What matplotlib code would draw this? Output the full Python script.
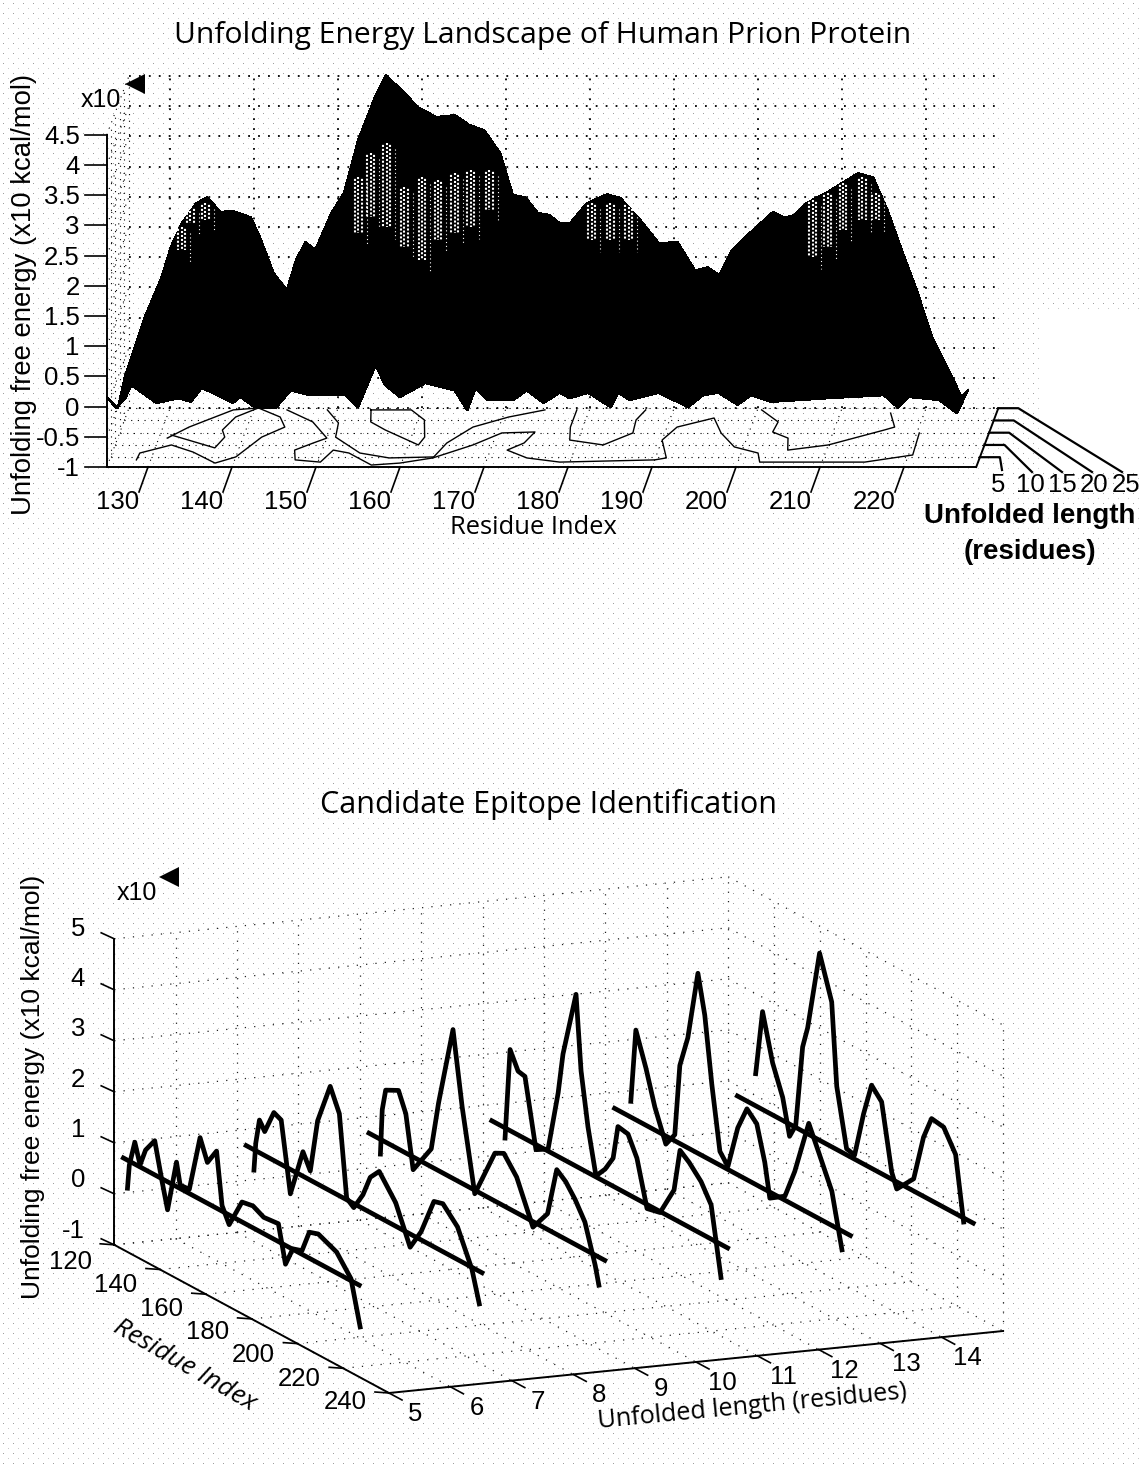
#!/usr/bin/env python
# -*- coding: utf-8 -*-
"""Unfolding energy landscape of the human prion protein, two oblique 3D views"""

import numpy as np
import matplotlib
matplotlib.use('Agg')
import matplotlib.pyplot as plt

plt.rcParams['font.family'] = ['Liberation Sans', 'DejaVu Sans']

W, H = 1142, 1464

## Top panel data (residue, unfolded length, energy in x10 kcal/mol)
top_res = [122.5, 123.8, 124.6, 127.0, 129.0, 130.1, 131.4, 133.1, 134.4, 136.0, 137.5, 139.6, 140.7, 142.3,
           143.9, 145.0, 146.1, 147.3, 149.2, 150.7, 152.4, 154.4, 155.7, 157.9, 159.5, 161.7, 163.9, 165.6,
           167.4, 169.3, 170.8, 172.3, 173.8, 175.1, 176.4, 177.6, 179.6, 182.0, 183.6, 186.0, 188.2, 190.4,
           192.5, 194.0, 195.4, 196.9, 198.7, 201.8, 203.1, 204.4, 205.7, 208.3, 211.9, 213.7, 215.4, 217.1,
           218.9, 220.7, 223.3, 224.2, 225.0]
top_ridge = [-0.82, -1.00, -0.49, 0.51, 1.17, 1.67, 2.06, 2.39, 2.49, 2.25, 2.26, 2.16, 1.83, 1.24,
             0.95, 1.45, 1.75, 1.62, 2.23, 2.56, 3.44, 4.15, 4.51, 4.22, 3.98, 3.82, 3.85, 3.69,
             3.60, 3.22, 2.53, 2.49, 2.23, 2.20, 2.06, 2.06, 2.39, 2.54, 2.48, 2.11, 1.73, 1.75,
             1.28, 1.33, 1.20, 1.62, 1.86, 2.25, 2.15, 2.20, 2.39, 2.58, 2.89, 2.82, 2.28, 1.62,
             0.95, 0.18, -0.54, -0.82, -0.70]
low_res = [125.1, 126.2, 127.3, 128.0, 129.3, 131.0, 133.6, 135.1, 136.4, 138.3, 140.1, 141.0, 142.7, 145.2,
           147.0, 149.2, 153.5, 155.0, 157.1, 158.2, 160.0, 163.0, 166.5, 168.0, 169.0, 170.4, 173.5, 175.1,
           177.1, 179.0, 180.2, 182.4, 185.1, 186.0, 187.3, 190.8, 194.3, 196.1, 197.9, 200.2, 201.8, 204.2,
           211.0, 217.6, 219.3, 220.6, 224.2, 226.3, 227.6]
low_edge = [0.16, -0.02, 0.14, 0.36, 0.23, 0.06, 0.14, 0.08, 0.31, 0.19, 0.06, 0.16, -0.01, -0.02,
            0.27, 0.19, 0.19, -0.01, 0.69, 0.36, 0.16, 0.39, 0.27, -0.06, 0.31, 0.11, 0.11, 0.27,
            0.06, 0.23, 0.14, 0.23, -0.01, 0.23, 0.11, 0.23, -0.01, 0.19, 0.23, 0.03, 0.19, 0.08,
            0.14, 0.19, -0.02, 0.16, 0.11, -0.11, 0.27]

# pale streaks where the mesh opens up near the ridge
mesh_res = [131.4, 132.4, 134.2, 152.4, 153.9, 155.8, 157.9, 160.0, 161.9, 163.9, 165.8, 168.0,
            180.2, 182.4, 184.6, 206.5, 208.3, 210.1, 212.4, 214.0]
mesh_top = [2.00, 2.33, 2.39, 2.82, 3.22, 3.39, 2.66, 2.82, 2.77, 2.89, 2.94, 2.94,
            2.39, 2.39, 2.39, 2.44, 2.56, 2.73, 2.82, 2.56]
mesh_bot = [1.62, 2.06, 2.11, 1.90, 2.16, 2.00, 1.67, 1.45, 1.78, 1.90, 2.00, 2.28,
            1.78, 1.78, 1.78, 1.50, 1.67, 1.95, 2.11, 2.11]

# contour lines on the floor
contour_res = [
    [128.3, 128.4, 131.8, 134.7, 137.8, 140.0, 142.2, 144.5, 143.5, 140.5, 137.6, 133.1, 131.0],
    [131.3, 137.1, 137.8, 137.2, 138.2, 140.5],
    [144.0, 147.6, 150.0, 148.6, 146.7, 147.2, 150.3, 151.3, 153.3, 156.5, 159.8, 163.5, 164.5, 166.9, 170.7, 174.7],
    [148.8, 150.7, 151.0, 154.6, 158.3, 163.5],
    [154.0, 154.5, 156.6, 161.2, 161.6, 160.8, 158.8, 154.0],
    [163.5, 167.7, 170.6, 174.5, 173.7, 172.0, 174.7, 178.8, 190.0, 191.3, 190.0, 191.2, 195.2, 196.7, 198.9,
     202.0, 202.6, 215.1, 220.5, 220.3],
    [178.5, 178.5, 179.0, 183.2, 186.2, 186.0, 186.7],
    [200.5, 203.0, 202.8, 204.9, 205.4, 210.0, 216.0, 217.1, 216.0],
]
contour_len = [
    [3.9, 6.7, 10.0, 7.1, 2.6, 5.1, 13.2, 17.3, 21.4, 25.1, 24.3, 17.3, 12.8],
    [14.1, 8.8, 13.2, 16.1, 21.4, 25.1],
    [24.3, 19.4, 12.8, 10.8, 7.9, 3.9, 3.0, 7.9, 6.7, 1.8, 2.6, 4.7, 10.8, 17.3, 21.4, 24.3],
    [24.3, 19.0, 13.2, 6.7, 4.7, 5.1],
    [24.3, 19.4, 16.1, 10.0, 13.2, 20.2, 24.3, 24.3],
    [4.7, 10.0, 14.9, 15.3, 10.8, 7.9, 4.7, 3.0, 3.9, 4.7, 12.0, 17.3, 21.0, 14.9, 9.2,
     6.7, 3.0, 3.0, 5.9, 14.9],
    [24.3, 17.3, 12.0, 10.0, 14.9, 20.2, 24.3],
    [24.3, 19.4, 15.3, 12.8, 7.9, 10.0, 16.1, 17.3, 23.0],
]

top_res_ticks = [130, 140, 150, 160, 170, 180, 190, 200, 210, 220]
top_z_ticks = [-1, -0.5, 0, 0.5, 1, 1.5, 2, 2.5, 3, 3.5, 4, 4.5]
top_z_labels = ['-1', '-0.5', '0', '0.5', '1', '1.5', '2', '2.5', '3', '3.5', '4', '4.5']
top_len_ticks = [5, 10, 15, 20, 25]

## Bottom panel data, one profile per unfolded length
prof_len = [5, 7, 9, 11, 13, 15]
prof_res = [
    [125.8, 126.6, 129.0, 131.3, 133.7, 137.7, 140.9, 143.3, 147.2, 148.8, 152.8, 157.5, 160.7, 164.7, 167.1,
     170.2, 175.8, 180.6, 185.3, 191.7, 194.8, 198.0, 202.0, 205.2, 209.1, 217.1, 223.4, 227.4],
    [127.4, 128.2, 129.8, 132.1, 136.1, 139.3, 143.3, 148.8, 152.0, 155.2, 160.7, 164.7, 167.9, 171.0, 175.0,
     178.2, 182.1, 189.3, 195.6, 200.4, 206.0, 209.9, 216.3, 222.6, 225.8],
    [129.0, 129.8, 131.3, 136.9, 140.1, 143.3, 151.2, 154.4, 160.7, 164.7, 170.2, 179.0, 182.9, 188.5, 195.6,
     202.0, 206.0, 209.9, 214.0, 218.3, 222.8, 224.4],
    [129.8, 132.0, 135.5, 138.5, 143.3, 148.6, 153.0, 155.1, 160.8, 163.0, 166.0, 169.5, 173.5, 177.0, 179.1,
     183.5, 187.4, 191.8, 197.5, 203.6, 206.2, 210.2, 215.4, 219.8, 224.1],
    [131.1, 133.3, 137.7, 141.6, 146.4, 150.3, 152.5, 156.0, 160.4, 163.4, 166.5, 170.0, 173.5, 177.8, 181.8,
     186.1, 189.6, 191.8, 198.4, 202.7, 208.8, 213.2, 218.9, 223.3],
    [132.0, 135.0, 139.4, 143.8, 146.8, 149.5, 152.5, 154.7, 159.9, 165.2, 167.4, 171.7, 175.2, 179.1, 182.6,
     187.0, 191.4, 193.6, 201.0, 205.3, 208.8, 214.1, 219.3, 222.8],
]
prof_energy = [
    [0.25, 0.72, 1.23, 0.84, 1.19, 1.47, 0.75, 0.25, 1.28, 0.87, 0.88, 2.01, 1.60, 1.92, 0.91,
     0.61, 1.19, 1.23, 1.12, 1.15, 0.43, 0.81, 0.87, 1.31, 1.37, 1.21, 0.84, -0.01],
    [0.40, 0.95, 1.44, 1.27, 1.74, 1.67, 0.32, 1.28, 0.98, 2.04, 2.85, 2.41, 0.83, 0.72, 1.07,
     1.49, 1.70, 1.26, 0.54, 0.96, 1.69, 1.74, 1.44, 0.76, 0.16],
    [0.51, 1.40, 1.82, 1.95, 1.57, 0.55, 1.15, 2.13, 3.72, 2.30, 0.73, 1.74, 1.83, 1.50, 0.69,
     1.11, 2.07, 1.93, 1.68, 1.34, 0.60, 0.25],
    [0.60, 2.39, 2.05, 2.02, 0.70, 0.84, 2.05, 2.86, 4.17, 2.72, 1.70, 0.82, 1.05, 1.35, 2.02,
     1.98, 1.60, 0.72, 0.78, 1.37, 2.21, 2.07, 1.82, 1.47, 0.15],
    [1.11, 2.56, 1.92, 1.25, 0.64, 0.92, 2.33, 2.96, 4.33, 3.58, 2.29, 1.07, 0.86, 1.72, 2.19,
     2.00, 1.33, 0.68, 0.88, 1.47, 2.56, 2.09, 1.47, 0.43],
    [1.43, 2.72, 1.82, 1.25, 0.56, 0.84, 2.45, 2.88, 4.47, 3.64, 2.04, 0.92, 0.88, 1.78, 2.43,
     2.21, 0.94, 0.66, 1.04, 1.96, 2.41, 2.37, 1.96, 0.72],
]
threshold = 0.8
threshold_res = [124, 227]

bot_z_ticks = [-1, 0, 1, 2, 3, 4, 5]
bot_res_ticks = [120, 140, 160, 180, 200, 220, 240]
bot_len_ticks = [5, 6, 7, 8, 9, 10, 11, 12, 13, 14]


def top_xy(r, l, z):
    r, l, z = np.asarray(r, float), np.asarray(l, float), np.asarray(z, float)
    return 148 + 8.4*(r - 130) + 0.92*(l - 1), 467 - 60.4*(z + 1) - 2.45*(l - 1)


def bot_xy(r, l, z):
    r, l, z = np.asarray(r, float), np.asarray(l, float), np.asarray(z, float)
    return 389 + 61.4*(l - 5) + 2.29*(r - 240), 1393 - 6.2*(l - 5) + 1.235*(r - 240) - 51*(z + 1)


fig = plt.figure(figsize=(W/100, H/100), dpi=100)
ax = fig.add_axes([0, 0, 1, 1])
ax.set_xlim(0, W)
ax.set_ylim(H, 0)
ax.axis('off')

# halftone paper of the scan
yy, xx = np.mgrid[0:H, 0:W]
paper = np.ones((H, W))
paper[(xx % 10 == 3) & (yy % 10 == 3)] = 0.62
paper[(xx % 10 == 8) & (yy % 10 == 8)] = 0.78
paper[(xx > 1042) & (yy > 312) & (yy < 470)] = 1
ax.imshow(paper, cmap='gray', vmin=0, vmax=1, extent=(0, W, H, 0), aspect='auto', zorder=0,
          interpolation='nearest')

grid = dict(color='black', lw=1.3, ls=(0, (1, 4.5)), zorder=1)
grid2 = dict(color='black', lw=0.8, ls=(0, (1, 5)), zorder=1)
grid3 = dict(color='#222222', lw=0.9, ls=(0, (1, 6.5)), zorder=1)
axis = dict(color='black', lw=1.4, zorder=2)
tick = dict(color='black', lw=1.2, zorder=2)

## Top panel
ax.text(543, 36, 'Unfolding Energy Landscape of Human Prion Protein', family='Open Sans',
        fontsize=21.6, ha='center', va='center')

# walls and floor
for z in top_z_ticks:
    ax.plot(*top_xy([125.1, 228.6], [25, 25], [z, z]), **grid)
    ax.plot(*top_xy([125.1, 125.1], [1, 25], [z, z]), **grid2)
for r in top_res_ticks:
    ax.plot(*top_xy([r, r], [25, 25], [-1, 4.5]), **grid)
for l in top_len_ticks:
    ax.plot(*top_xy([125.1, 228.6], [l, l], [-1, -1]), **grid2)
    ax.plot(*top_xy([125.1, 125.1], [l, l], [-1, 4.5]), **grid2)
for r in top_res_ticks:
    ax.plot(*top_xy([r, r], [1, 25], [-1, -1]), **grid2)

# contours under the surface
for res, lens in zip(contour_res, contour_len):
    ax.plot(*top_xy(res, lens, -1), color='black', lw=1.0, zorder=2)

# surface
xt, yt = top_xy(top_res, 25, top_ridge)
xl, yl = top_xy(low_res, 1, low_edge)
ax.fill(np.r_[xt, xl[::-1]], np.r_[yt, yl[::-1]], color='black', lw=1, antialiased=False, zorder=3)
for r, zt, zb in zip(mesh_res, mesh_top, mesh_bot):
    # checker of three columns for the open part, a fainter one beside it
    for dr, phase in [(-0.4, 1), (0, 0), (0.4, 1)]:
        ax.plot(*top_xy([r + dr, r + dr], [25, 25], [zt, zb]), color='white', lw=1.5,
                ls=(phase, (1, 0.9)), zorder=4)
    ax.plot(*top_xy([r + 1, r + 1], [25, 25], [zt - 0.1, zb - 0.2]), color='white', lw=0.8,
            ls=(0, (1, 2.5)), zorder=4)

# axes
ax.plot(*top_xy([125.1, 125.1], [1, 1], [-1, 4.5]), **axis)
ax.plot(*top_xy([125.1, 228.6], [1, 1], [-1, -1]), **axis)
ax.plot(*top_xy([228.6, 228.6], [1, 25], [-1, -1]), **axis)
for z, lab in zip(top_z_ticks, top_z_labels):
    x0, y0 = top_xy(125.1, 1, z)
    ax.plot([x0 - 22, x0], [y0, y0], **tick)
    ax.text(x0 - 27, y0 + 2, lab, fontsize=18.5, ha='right', va='center')
for r in top_res_ticks:
    x0, y0 = top_xy(r, 1, -1)
    ax.plot([x0, x0 - 9], [y0, y0 + 25], **tick)
    ax.text(x0 - 30, y0 + 35, str(r), fontsize=18.5, ha='center', va='center')
for i, l in enumerate(top_len_ticks):
    x0, y0 = top_xy(228.6, l, -1)
    # leader runs out flat, then down to the label
    ax.plot([x0, x0 + 20, 1002 + 30*i], [y0, y0, 470 if i == 0 else 472], color='black', lw=1.6, zorder=2)
    ax.text(998 + 32*i, 485, str(l), fontsize=18.5, ha='center', va='center')
ax.text(1030, 516, 'Unfolded length', fontsize=20, fontweight='bold', ha='center', va='center')
ax.text(1030, 552, '(residues)', fontsize=20, fontweight='bold', ha='center', va='center')
ax.text(533, 528, 'Residue Index', family='Open Sans', fontsize=18.4, ha='center', va='center')
ax.text(24, 294, 'Unfolding free energy (x10 kcal/mol)', fontsize=19.8, rotation=90, ha='center', va='center')
ax.text(101, 100, 'x10', fontsize=18, ha='center', va='center')
ax.plot([135], [84], marker='<', ms=14, color='black', mew=0, zorder=4)

## Bottom panel
ax.text(548, 804, 'Candidate Epitope Identification', family='Open Sans', fontsize=22,
        ha='center', va='center')

for z in bot_z_ticks:
    ax.plot(*bot_xy([120, 120], [5, 15], [z, z]), **grid3)
    ax.plot(*bot_xy([120, 240], [15, 15], [z, z]), **grid3)
for l in bot_len_ticks:
    ax.plot(*bot_xy([120, 120], [l, l], [-1, 5]), **grid3)
    ax.plot(*bot_xy([120, 240], [l, l], [-1, -1]), **grid3)
for r in bot_res_ticks:
    ax.plot(*bot_xy([r, r], [15, 15], [-1, 5]), **grid3)
    ax.plot(*bot_xy([r, r], [5, 15], [-1, -1]), **grid3)

for l, res, energy in zip(prof_len, prof_res, prof_energy):
    ax.plot(*bot_xy(threshold_res, [l, l], [threshold, threshold]), color='black', lw=3.4, zorder=5)
    ax.plot(*bot_xy(res, l, energy), color='black', lw=3.4, solid_joinstyle='round', zorder=6)

ax.plot(*bot_xy([120, 120], [5, 5], [-1, 5]), **axis)
ax.plot(*bot_xy([120, 240], [5, 5], [-1, -1]), **axis)
ax.plot(*bot_xy([240, 240], [5, 15], [-1, -1]), **axis)
for z in bot_z_ticks:
    x0, y0 = bot_xy(120, 5, z)
    ax.plot([x0 - 13, x0], [y0 - 6, y0], **tick)
    ax.text(x0 - 29, y0 - 10 - (5 - z)*0.67, str(z), fontsize=18.5, ha='right', va='center')
for r in bot_res_ticks:
    x0, y0 = bot_xy(r, 5, -1)
    ax.plot([x0 - 14, x0], [y0 - 1, y0], **tick)
    ax.text(x0 - 44, y0 + 17 - 8*(r - 120)/120, str(r), fontsize=18.5, ha='center', va='center')
for l in bot_len_ticks:
    x0, y0 = bot_xy(240, l, -1)
    ax.plot([x0, x0 + 13], [y0, y0 + 7], **tick)
    ax.text(x0 + 26, y0 + 21, str(l), fontsize=18.5, ha='center', va='center')
ax.text(185, 1365, 'Residue Index', family='Open Sans', fontsize=19, rotation=-30, style='italic',
        ha='center', va='center')
ax.text(752, 1407, 'Unfolded length (residues)', family='Open Sans', fontsize=18.2, rotation=5.5,
        ha='center', va='center')
ax.text(33, 1087, 'Unfolding free energy (x10 kcal/mol)', fontsize=19, rotation=90, ha='center', va='center')
ax.text(137, 893, 'x10', fontsize=18, ha='center', va='center')
ax.plot([169], [877], marker='<', ms=14, color='black', mew=0, zorder=4)

fig.savefig('out.png', dpi=100)
